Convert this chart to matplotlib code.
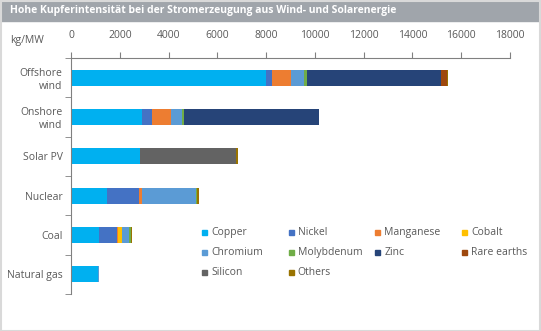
import matplotlib.pyplot as plt
import numpy as np
from matplotlib.patches import Rectangle

plt.rcParams['font.family'] = ['Open Sans', 'DejaVu Sans']

categories = ["Offshore\nwind", "Onshore\nwind", "Solar PV", "Nuclear", "Coal", "Natural gas"]
copper = [8000, 2900, 2822, 1473, 1150, 1100]
nickel = [240, 404, 0, 1297, 721, 16]
manganese = [790, 780, 0, 148, 50, 0]
cobalt = [0, 0, 0, 0, 170, 0]
chromium = [525, 470, 0, 2190, 308, 48]
molybdenum = [109, 99, 0, 70, 66, 0]
zinc = [5500, 5500, 0, 0, 0, 0]
rare_earths = [239, 14, 0, 0, 0, 0]
silicon = [0, 0, 3960, 0, 0, 0]
others = [40, 0, 46, 80, 40, 0]

series = [
    ("Copper", copper, "#00B0F0"),
    ("Nickel", nickel, "#4472C4"),
    ("Manganese", manganese, "#ED7D31"),
    ("Cobalt", cobalt, "#FFC000"),
    ("Chromium", chromium, "#5B9BD5"),
    ("Molybdenum", molybdenum, "#70AD47"),
    ("Zinc", zinc, "#264478"),
    ("Rare earths", rare_earths, "#9E480E"),
    ("Silicon", silicon, "#636363"),
    ("Others", others, "#997300"),
]

W, H = 541, 331
fig = plt.figure(figsize=(W / 100, H / 100), dpi=100)
ax = fig.add_axes([0.1312, 0.1118, 0.8115, 0.713])

y = np.arange(len(categories))
left = np.zeros(len(categories))
for name, vals, col in series:
    vals = np.array(vals, dtype=float)
    ax.barh(y, vals, left=left, height=0.41, color=col, label=name)
    left += vals

ax.set_ylim(len(categories) - 0.5, -0.5)
ax.set_xlim(0, 18000)
ax.xaxis.tick_top()
ax.set_xticks(np.arange(0, 18001, 2000))
ax.tick_params(axis='x', colors='#808080', labelcolor='#595959', labelsize=7.5,
               length=4, pad=8)
ax.set_yticks(y)
ax.set_yticklabels(categories)
ax.set_yticks(np.arange(-0.5, len(categories), 1), minor=True)
ax.tick_params(axis='y', which='major', length=0, labelcolor='#595959', labelsize=7.5, pad=6)
ax.tick_params(axis='y', which='minor', length=4, color='#808080')
for s in ['right', 'bottom']:
    ax.spines[s].set_visible(False)
for s in ['top', 'left']:
    ax.spines[s].set_color('#808080')

# legend: 4 equal-width columns, row-major like the original
for i, (name, _, col) in enumerate(series):
    r, c = divmod(i, 4)
    px = 202 + c * 86.7
    py = 232.5 + r * 20
    fig.patches.append(Rectangle((px / W, 1 - (py + 2.5) / H), 5 / W, 5 / H,
                                 transform=fig.transFigure, color=col))
    fig.text((px + 9) / W, 1 - py / H, name, color='#595959', fontsize=7.5,
             va='center', ha='left')

# title bar
fig.patches.append(Rectangle((0, 1 - 21 / H), 1, 21 / H, transform=fig.transFigure,
                             color='#A0A5AB', zorder=0))
fig.text(10 / W, 1 - 11 / H, "Hohe Kupferintensität bei der Stromerzeugung aus Wind- und Solarenergie",
         color='white', fontsize=7.5, fontweight='bold', va='center', ha='left')
fig.text(10 / W, 1 - 40 / H, "kg/MW", color='#595959', fontsize=7.5, va='center', ha='left')
fig.patches.append(Rectangle((0.001, 0.001), 0.997, 0.997, transform=fig.transFigure,
                             fill=False, edgecolor='#D9D9D9', lw=1.5))

fig.savefig("out.png", dpi=100)
